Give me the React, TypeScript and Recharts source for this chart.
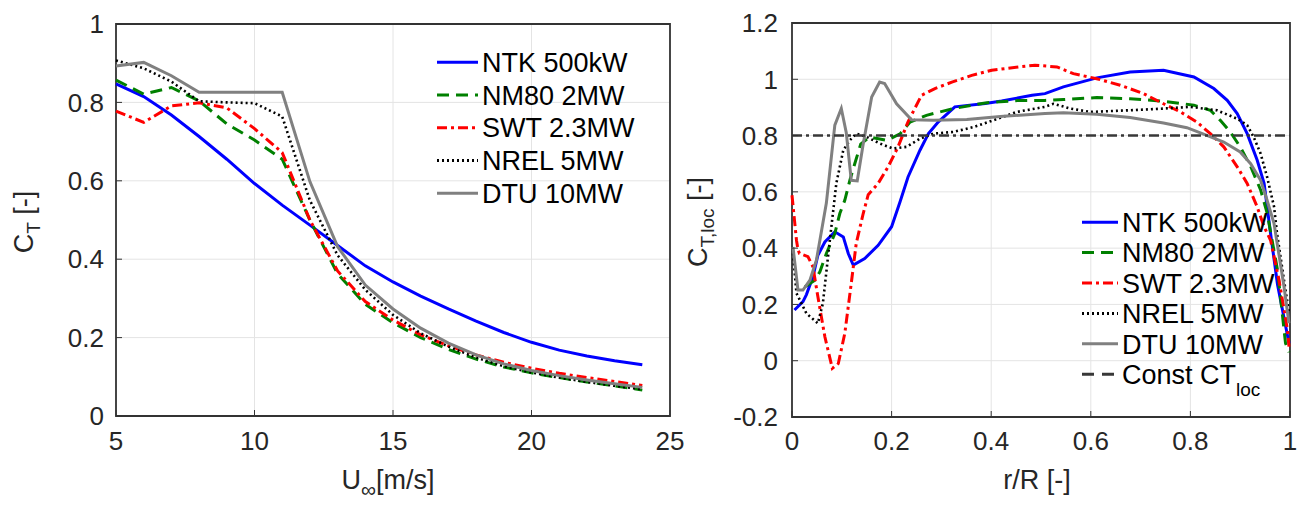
import { CartesianGrid, Legend, Line, LineChart, ReferenceArea, XAxis, YAxis } from 'recharts'

// left panel: rotor thrust coefficient vs wind speed
const windSpeed = [5, 6, 7, 8, 9, 10, 11, 12, 13, 14, 15, 16, 17, 18, 19, 20, 21, 22, 23, 24]
const ctNtk = [0.847, 0.815, 0.768, 0.713, 0.655, 0.593, 0.538, 0.487, 0.435, 0.383, 0.342, 0.306, 0.273, 0.242, 0.213, 0.188, 0.168, 0.153, 0.141, 0.131]
const ctNm80 = [0.857, 0.821, 0.838, 0.804, 0.745, 0.704, 0.655, 0.5, 0.363, 0.285, 0.238, 0.2, 0.17, 0.145, 0.125, 0.11, 0.098, 0.087, 0.077, 0.066]
const ctSwt = [0.778, 0.749, 0.791, 0.799, 0.786, 0.733, 0.672, 0.5, 0.37, 0.292, 0.245, 0.207, 0.179, 0.156, 0.137, 0.122, 0.109, 0.098, 0.088, 0.078]
const ctNrel = [0.907, 0.887, 0.853, 0.803, 0.8, 0.798, 0.764, 0.55, 0.41, 0.322, 0.258, 0.211, 0.177, 0.149, 0.127, 0.111, 0.098, 0.087, 0.077, 0.068]
const ctDtu = [0.893, 0.902, 0.868, 0.826, 0.826, 0.826, 0.826, 0.598, 0.432, 0.334, 0.273, 0.224, 0.186, 0.156, 0.133, 0.116, 0.103, 0.092, 0.082, 0.073]

// right panel: local thrust coefficient along the blade
const rNtk = [0.005, 0.022, 0.029, 0.042, 0.052, 0.066, 0.086, 0.103, 0.113, 0.123, 0.146, 0.173, 0.2, 0.217, 0.233, 0.257, 0.274, 0.294, 0.327, 0.388, 0.421, 0.482, 0.508, 0.545, 0.612, 0.679, 0.746, 0.807, 0.847, 0.874, 0.894, 0.914, 0.934, 0.948, 0.961, 0.975, 0.998]
const locNtk = [0.18, 0.21, 0.235, 0.298, 0.375, 0.422, 0.458, 0.44, 0.381, 0.34, 0.363, 0.41, 0.476, 0.565, 0.653, 0.748, 0.807, 0.849, 0.902, 0.914, 0.923, 0.943, 0.949, 0.973, 1.005, 1.026, 1.032, 1.008, 0.967, 0.925, 0.878, 0.807, 0.713, 0.63, 0.452, 0.27, 0.062]
const rNm80 = [0.026, 0.046, 0.056, 0.069, 0.086, 0.096, 0.106, 0.116, 0.126, 0.138, 0.156, 0.19, 0.217, 0.237, 0.27, 0.324, 0.388, 0.455, 0.508, 0.545, 0.612, 0.679, 0.746, 0.807, 0.84, 0.86, 0.88, 0.9, 0.921, 0.941, 0.954, 0.975, 0.991, 0.998]
const locNm80 = [0.263, 0.286, 0.316, 0.381, 0.452, 0.523, 0.57, 0.64, 0.7, 0.77, 0.795, 0.783, 0.806, 0.848, 0.872, 0.896, 0.916, 0.925, 0.925, 0.928, 0.935, 0.931, 0.922, 0.908, 0.89, 0.854, 0.813, 0.76, 0.69, 0.607, 0.525, 0.322, 0.062, 0.03]
const rSwt = [0, 0.009, 0.012, 0.015, 0.032, 0.042, 0.052, 0.066, 0.081, 0.093, 0.106, 0.119, 0.129, 0.143, 0.153, 0.173, 0.193, 0.213, 0.233, 0.26, 0.287, 0.321, 0.361, 0.401, 0.455, 0.488, 0.532, 0.565, 0.612, 0.659, 0.706, 0.746, 0.78, 0.813, 0.84, 0.867, 0.894, 0.914, 0.934, 0.948, 0.961, 0.978, 0.995, 0.998]
const locSwt = [0.588, 0.428, 0.395, 0.381, 0.37, 0.334, 0.227, 0.085, -0.027, -0.01, 0.097, 0.275, 0.417, 0.523, 0.59, 0.63, 0.689, 0.76, 0.849, 0.943, 0.967, 0.99, 1.014, 1.032, 1.044, 1.05, 1.044, 1.02, 1.002, 0.979, 0.949, 0.913, 0.884, 0.848, 0.807, 0.76, 0.689, 0.63, 0.547, 0.476, 0.428, 0.286, 0.109, 0.05]
const rNrel = [0.002, 0.009, 0.029, 0.052, 0.062, 0.076, 0.089, 0.103, 0.116, 0.129, 0.15, 0.176, 0.203, 0.23, 0.257, 0.284, 0.324, 0.364, 0.404, 0.451, 0.508, 0.525, 0.559, 0.599, 0.639, 0.679, 0.746, 0.8, 0.853, 0.894, 0.914, 0.927, 0.941, 0.954, 0.968, 0.974, 0.988, 0.998]
const locNrel = [0.381, 0.24, 0.168, 0.133, 0.204, 0.428, 0.63, 0.748, 0.783, 0.807, 0.795, 0.772, 0.754, 0.76, 0.789, 0.807, 0.813, 0.83, 0.854, 0.884, 0.902, 0.913, 0.896, 0.884, 0.887, 0.89, 0.896, 0.902, 0.89, 0.86, 0.837, 0.795, 0.736, 0.653, 0.547, 0.452, 0.286, 0.17]
const rDtu = [0.002, 0.012, 0.022, 0.036, 0.049, 0.069, 0.086, 0.099, 0.109, 0.119, 0.131, 0.143, 0.16, 0.176, 0.186, 0.21, 0.24, 0.284, 0.351, 0.418, 0.508, 0.545, 0.612, 0.679, 0.746, 0.793, 0.833, 0.867, 0.9, 0.921, 0.941, 0.954, 0.968, 0.988, 0.998]
const locDtu = [0.404, 0.251, 0.251, 0.286, 0.357, 0.56, 0.837, 0.896, 0.81, 0.641, 0.639, 0.77, 0.937, 0.99, 0.985, 0.913, 0.856, 0.854, 0.857, 0.868, 0.878, 0.881, 0.876, 0.864, 0.845, 0.828, 0.801, 0.777, 0.742, 0.7, 0.641, 0.57, 0.487, 0.263, 0.133]
const rConst = [0, 1]
const locConst = [0.8, 0.8]

const ticksU = [5, 10, 15, 20, 25]
const ticksCt = [0, 0.2, 0.4, 0.6, 0.8, 1]
const ticksR = [0, 0.2, 0.4, 0.6, 0.8, 1]
const ticksLoc = [-0.2, 0, 0.2, 0.4, 0.6, 0.8, 1, 1.2]

const FONT = '"Liberation Sans", Arial, Helvetica, sans-serif'
const TXT = '#262626'

type Style = { key: string; name: string; sub?: string; color: string; dash?: string; width: number }

const STYLES: Style[] = [
  { key: 'ntk', name: 'NTK 500kW', color: '#0000ff', width: 3 },
  { key: 'nm80', name: 'NM80 2MW', color: '#008000', dash: '12 7', width: 3 },
  { key: 'swt', name: 'SWT 2.3MW', color: '#ff0000', dash: '10 4 3 4', width: 3 },
  { key: 'nrel', name: 'NREL 5MW', color: '#000000', dash: '2 3', width: 2.6 },
  { key: 'dtu', name: 'DTU 10MW', color: '#808080', width: 3 },
]
const CONST_STYLE: Style = { key: 'const', name: 'Const CT', sub: 'loc', color: '#383838', dash: '10 4 3 4', width: 2.6 }

const leftData = windSpeed.map((u, i) => ({
  u,
  ntk: ctNtk[i],
  nm80: ctNm80[i],
  swt: ctSwt[i],
  nrel: ctNrel[i],
  dtu: ctDtu[i],
}))

const pts = (r: number[], ct: number[]) => r.map((x, i) => ({ r: x, ct: ct[i] }))
const rightData: Record<string, { r: number; ct: number }[]> = {
  ntk: pts(rNtk, locNtk),
  nm80: pts(rNm80, locNm80),
  swt: pts(rSwt, locSwt),
  nrel: pts(rNrel, locNrel),
  dtu: pts(rDtu, locDtu),
  const: pts(rConst, locConst),
}

const tickStyle = { fontSize: 26, fill: TXT, fontFamily: FONT }

function LegendBox({ rows, sample, rowH, legendDash }: { rows: Style[]; sample: number; rowH: number; legendDash?: Record<string, string> }) {
  return (
    <svg width={260} height={rows.length * rowH} style={{ display: 'block', overflow: 'visible' }}>
      {rows.map((s, i) => {
        const y = rowH * i + rowH / 2
        return (
          <g key={s.key}>
            <line x1={0} x2={sample} y1={y} y2={y} stroke={s.color} strokeWidth={3} strokeDasharray={legendDash?.[s.key] ?? s.dash} />
            <text x={sample + 4} y={y} dy="0.36em" fontSize={27} fontFamily={FONT} fill="#000">
              {s.name}
              {s.sub && (
                <tspan fontSize={19} dy={12}>
                  {s.sub}
                </tspan>
              )}
            </text>
          </g>
        )
      })}
    </svg>
  )
}

export default function App() {
  return (
    <div style={{ position: 'absolute', left: 0, top: 0, width: 1307, height: 505, background: '#fff', overflow: 'hidden' }}>
      <div style={{ position: 'absolute', left: 0, top: 0 }}>
        <LineChart width={700} height={505} data={leftData} margin={{ top: 24, right: 30, left: 56, bottom: 49 }}>
          <CartesianGrid stroke="#e4e4e4" />
          <XAxis
            dataKey="u"
            type="number"
            domain={[5, 25]}
            ticks={ticksU}
            interval={0}
            axisLine={false}
            tickSize={-6}
            tickMargin={22}
            tickLine={{ stroke: '#333' }}
            tick={tickStyle}
            height={40}
          />
          <YAxis
            type="number"
            domain={[0, 1]}
            ticks={ticksCt}
            interval={0}
            axisLine={false}
            tickSize={-6}
            tickMargin={18}
            tickLine={{ stroke: '#333' }}
            tick={tickStyle}
            width={60}
          />
          <ReferenceArea x1={5} x2={25} y1={0} y2={1} fill="none" stroke="#333" strokeWidth={1.8} />
          {STYLES.map((s) => (
            <Line
              key={s.key}
              dataKey={s.key}
              name={s.name}
              type="linear"
              stroke={s.color}
              strokeWidth={s.width}
              strokeDasharray={s.dash}
              dot={false}
              isAnimationActive={false}
            />
          ))}
          <Legend
            layout="vertical"
            align="center"
            verticalAlign="middle"
            wrapperStyle={{ left: 437, top: 46, width: 260, height: 164 }}
            content={() => <LegendBox rows={STYLES} sample={41} rowH={32.7} />}
          />
        </LineChart>
      </div>

      <div style={{ position: 'absolute', left: 680, top: 0 }}>
        <LineChart width={627} height={505} margin={{ top: 23, right: 17, left: 52, bottom: 48 }}>
          <CartesianGrid stroke="#e4e4e4" />
          <XAxis
            dataKey="r"
            type="number"
            domain={[0, 1]}
            ticks={ticksR}
            interval={0}
            axisLine={false}
            tickSize={-6}
            tickMargin={21}
            tickLine={{ stroke: '#333' }}
            tick={tickStyle}
            height={40}
            allowDuplicatedCategory={false}
          />
          <YAxis
            type="number"
            domain={[-0.2, 1.2]}
            ticks={ticksLoc}
            interval={0}
            axisLine={false}
            tickSize={-6}
            tickMargin={20}
            tickLine={{ stroke: '#333' }}
            tick={tickStyle}
            width={60}
          />
          <ReferenceArea x1={0} x2={1} y1={-0.2} y2={1.2} fill="none" stroke="#333" strokeWidth={1.8} />
          {[...STYLES, CONST_STYLE].map((s) => (
            <Line
              key={s.key}
              data={rightData[s.key]}
              dataKey="ct"
              name={s.name}
              type="linear"
              stroke={s.color}
              strokeWidth={s.width}
              strokeDasharray={s.dash}
              dot={false}
              isAnimationActive={false}
            />
          ))}
          <Legend
            layout="vertical"
            align="center"
            verticalAlign="middle"
            wrapperStyle={{ left: 402, top: 207, width: 260, height: 180 }}
            content={() => (
              <LegendBox rows={[...STYLES, CONST_STYLE]} sample={36} rowH={30.4} legendDash={{ const: '12 8' }} />
            )}
          />
        </LineChart>
      </div>

      <svg width={1307} height={505} style={{ position: 'absolute', left: 0, top: 0, pointerEvents: 'none' }}>
        <g fontFamily={FONT} fontSize={27} fill={TXT}>
          <text transform="translate(33,222) rotate(-90)" textAnchor="middle">
            C
            <tspan fontSize={19} dy={7}>
              T
            </tspan>
            <tspan dy={-7}> [-]</tspan>
          </text>
          <text x={388} y={489} textAnchor="middle">
            U
            <tspan fontSize={21} dy={8}>
              ∞
            </tspan>
            <tspan dy={-8}>[m/s]</tspan>
          </text>
          <text transform="translate(707,222) rotate(-90)" textAnchor="middle">
            C
            <tspan fontSize={19} dy={7}>
              T,loc
            </tspan>
            <tspan dy={-7}> [-]</tspan>
          </text>
          <text x={1037} y={489} textAnchor="middle">
            r/R [-]
          </text>
        </g>
      </svg>
    </div>
  )
}
